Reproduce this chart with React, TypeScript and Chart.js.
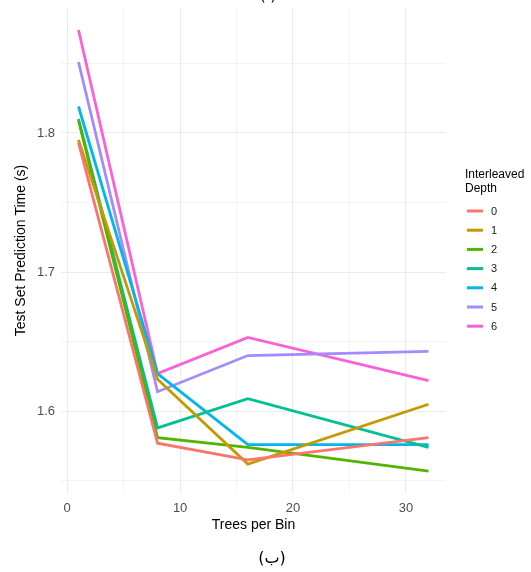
import React, { useEffect, useRef } from "react";
import { Chart, registerables } from "chart.js";

Chart.register(...registerables);

const treesPerBin = [1, 8, 16, 32];
const depthLabels = ["0", "1", "2", "3", "4", "5", "6"];
const depth0 = [1.793, 1.577, 1.565, 1.581];
const depth1 = [1.795, 1.623, 1.562, 1.605];
const depth2 = [1.809, 1.581, 1.574, 1.557];
const depth3 = [1.810, 1.588, 1.609, 1.574];
const depth4 = [1.819, 1.627, 1.576, 1.576];
const depth5 = [1.851, 1.614, 1.640, 1.643];
const depth6 = [1.874, 1.627, 1.653, 1.622];
const seriesValues = [depth0, depth1, depth2, depth3, depth4, depth5, depth6];
const colors = ["#F8766D", "#C49A00", "#53B400", "#00C094", "#00B6EB", "#A58AFF", "#FB61D7"];
const xTickLabels = [0, 10, 20, 30];
const yTickLabels = [1.6, 1.7, 1.8];

const FONT = "'Liberation Sans', Arial, Helvetica, sans-serif";

export default function App() {
  const ref = useRef<HTMLCanvasElement | null>(null);
  useEffect(() => {
    if (!ref.current) return;
    const overlay = {
      id: "overlay",
      afterDraw(chart: any) {
        const ctx = chart.ctx;
        const ca = chart.chartArea;
        ctx.save();
        ctx.fillStyle = "#000";
        ctx.font = `14px ${FONT}`;
        ctx.textAlign = "center";
        ctx.textBaseline = "middle";
        ctx.save();
        ctx.translate(21, (ca.top + ca.bottom) / 2);
        ctx.rotate(-Math.PI / 2);
        ctx.fillText("Test Set Prediction Time (s)", 0, 0);
        ctx.restore();
        ctx.fillText("Trees per Bin", (ca.left + ca.right) / 2, 525);
        ctx.font = `16px 'DejaVu Sans', sans-serif`;
        ctx.fillText("(ب)", 272, 559);
        ctx.fillText("(أ)", 268, -4);
        ctx.textAlign = "left";
        ctx.textBaseline = "alphabetic";
        ctx.font = `12px ${FONT}`;
        ctx.fillText("Interleaved", 465, 178);
        ctx.fillText("Depth", 465, 192);
        ctx.font = `11px ${FONT}`;
        ctx.textBaseline = "middle";
        chart.data.datasets.forEach((ds: any, i: number) => {
          const y = 211 + i * 19.2;
          ctx.strokeStyle = ds.borderColor;
          ctx.lineWidth = 3;
          ctx.beginPath();
          ctx.moveTo(467, y);
          ctx.lineTo(483, y);
          ctx.stroke();
          ctx.fillStyle = "#1a1a1a";
          ctx.fillText(ds.label, 491, y + 0.5);
        });
        ctx.restore();
      },
    };
    const isMajor = (v: number, step: number) => Math.abs(v / step - Math.round(v / step)) < 1e-6;
    const chart = new Chart(ref.current, {
      type: "line",
      data: {
        datasets: seriesValues.map((vals, i) => ({
          label: depthLabels[i],
          data: vals.map((v, j) => ({ x: treesPerBin[j], y: v })),
          borderColor: colors[i],
          backgroundColor: colors[i],
          borderWidth: 2.8,
          pointRadius: 0,
          tension: 0,
          fill: false,
        })),
      },
      options: {
        animation: false,
        responsive: false,
        maintainAspectRatio: false,
        layout: { padding: { top: 8, right: 85, left: 0, bottom: 0 } },
        plugins: { legend: { display: false }, tooltip: { enabled: false } },
        scales: {
          x: {
            type: "linear",
            min: -0.55,
            max: 33.55,
            border: { display: false },
            afterFit: (s: any) => { s.height = 79; s.paddingLeft = 0; s.paddingRight = 0; },
            ticks: {
              stepSize: 5,
              includeBounds: false,
              autoSkip: false,
              maxRotation: 0,
              padding: 8,
              color: "#4D4D4D",
              font: { size: 13, family: FONT },
              callback: (v: any) => (xTickLabels.includes(Number(v)) ? String(v) : ""),
            },
            grid: {
              drawTicks: false,
              color: "#EBEBEB",
              lineWidth: (c: any) => (isMajor(c.tick.value, 10) ? 1.1 : 0.55),
            },
          },
          y: {
            type: "linear",
            min: 1.5412,
            max: 1.8898,
            border: { display: false },
            afterFit: (s: any) => { s.width = 61; s.paddingTop = 0; s.paddingBottom = 0; },
            ticks: {
              stepSize: 0.05,
              includeBounds: false,
              autoSkip: false,
              padding: 6,
              color: "#4D4D4D",
              font: { size: 13, family: FONT },
              callback: (v: any) => {
                const n = Number(v);
                const hit = yTickLabels.find((t) => Math.abs(t - n) < 1e-6);
                return hit !== undefined ? hit.toFixed(1) : "";
              },
            },
            grid: {
              drawTicks: false,
              color: "#EBEBEB",
              lineWidth: (c: any) => (isMajor(c.tick.value, 0.1) ? 1.1 : 0.55),
            },
          },
        },
      },
      plugins: [overlay],
    });
    return () => chart.destroy();
  }, []);
  return (
    <div style={{ position: "absolute", left: 0, top: 0, width: 531, height: 572, background: "#fff" }}>
      <canvas ref={ref} width={531} height={572} style={{ width: 531, height: 572 }} />
    </div>
  );
}
